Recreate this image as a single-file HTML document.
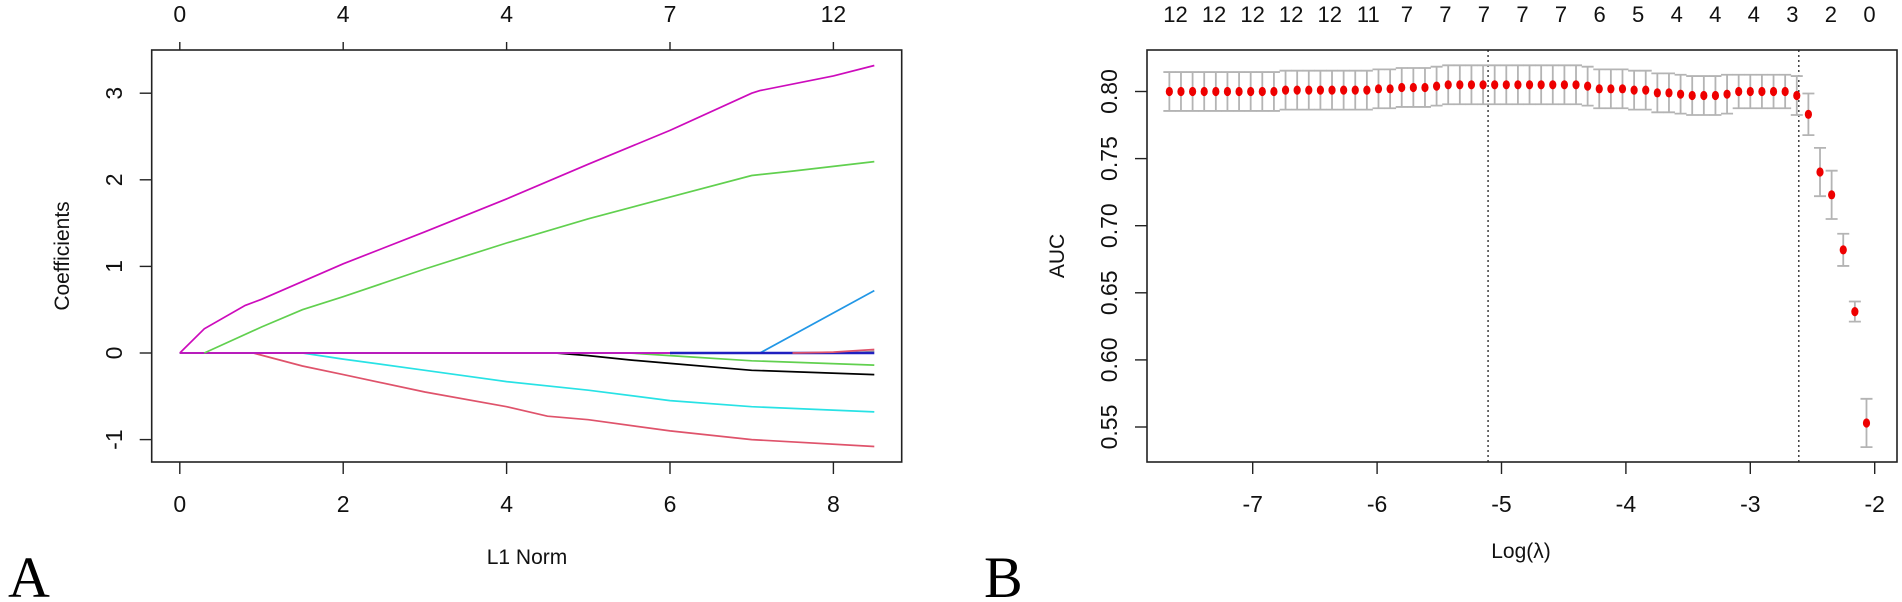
<!DOCTYPE html>
<html><head><meta charset="utf-8"><style>
html,body{margin:0;padding:0;background:#fff;}
svg{display:block;font-family:"Liberation Sans",sans-serif;}
</style></head><body>
<svg id="fig" width="1902" height="602" viewBox="0 0 1902 602">
<text x="8" y="597" font-family="Liberation Serif" font-size="58">A</text>
<text x="984" y="597" font-family="Liberation Serif" font-size="58">B</text>
<g id="pa"></g>
<g id="pb"></g>
</svg>
<script>
// ---- Panel A data ----
const aTopLabels = ["0","4","4","7","12"];
const aXTicks = [0,2,4,6,8];
const aYTicks = [-1,0,1,2,3];
const aColors = ["#DF536B","#28E2E5","#000000","#61D04F","#2297E6","#9E9E9E","#CD0BBC","#2020C0","#DF536B","#61D04F","#CD0BBC"];
const aPathX = [
 [0,0.9,1.5,2,3,4,4.5,5,6,7,8.5],
 [0,1.5,2,3,4,5,6,7,8.5],
 [0,4.6,5,5.5,6,7,8.5],
 [0,5.5,6,7,8.5],
 [0,7.1,8.5],
 [8.0,8.2,8.5],
 [0,6],
 [6,8.5],
 [7.5,8,8.5],
 [0.3,1,1.5,2,3,4,5,6,7,7.5,8.5],
 [0,0.3,0.8,1,2,3,4,5,6,7,7.1,8,8.5]
];
const aPathY = [
 [0,0,-0.15,-0.25,-0.45,-0.62,-0.73,-0.77,-0.9,-1.0,-1.08],
 [0,0,-0.07,-0.2,-0.33,-0.43,-0.55,-0.62,-0.68],
 [0,0,-0.03,-0.08,-0.12,-0.2,-0.25],
 [0,0,-0.03,-0.09,-0.14],
 [0,0,0.72],
 [0,0,0.02],
 [0,0],
 [0,0],
 [0,0.01,0.04],
 [0,0.3,0.5,0.65,0.97,1.27,1.55,1.8,2.05,2.1,2.21],
 [0,0.28,0.55,0.62,1.03,1.4,1.78,2.18,2.57,3.0,3.03,3.2,3.32]
];
// ---- Panel B data ----
const bLogLambda0 = -7.67, bLogLambdaStep = 0.0934;
const bAUC = [0.800,0.800,0.800,0.800,0.800,0.800,0.800,0.800,0.800,0.800,
 0.801,0.801,0.801,0.801,0.801,0.801,0.801,0.801,0.802,0.802,
 0.803,0.803,0.803,0.804,0.805,0.805,0.805,0.805,0.805,0.805,
 0.805,0.805,0.805,0.805,0.805,0.805,0.804,0.802,0.802,0.802,
 0.801,0.801,0.799,0.799,0.798,0.797,0.797,0.797,0.798,0.800,
 0.800,0.800,0.800,0.800,0.797,0.783,0.740,0.723,0.682,0.636,0.553];
const bSE = [0.0145,0.0145,0.0145,0.0145,0.0145,0.0145,0.0145,0.0145,0.0145,0.0145,
 0.0145,0.0145,0.0145,0.0145,0.0145,0.0145,0.0145,0.0145,0.0145,0.0145,
 0.0145,0.0145,0.0145,0.0145,0.0145,0.0145,0.0145,0.0145,0.0145,0.0145,
 0.0145,0.0145,0.0145,0.0145,0.0145,0.0145,0.0145,0.0145,0.0145,0.0145,
 0.0145,0.0145,0.0145,0.0145,0.0145,0.0145,0.0145,0.0145,0.0145,0.0125,
 0.0125,0.0125,0.0125,0.0125,0.0145,0.0155,0.018,0.018,0.012,0.0075,0.018];
const bXTicks = [-7,-6,-5,-4,-3,-2];
const bYTicks = [0.55,0.60,0.65,0.70,0.75,0.80];
const bTopLabels = ["12","12","12","12","12","11","7","7","7","7","7","6","5","4","4","4","3","2","0"];
const bVLines = [-5.108,-2.61];

const NS="http://www.w3.org/2000/svg";
function mk(parent,tag,attrs,text){const e=document.createElementNS(NS,tag);for(const k in attrs)e.setAttribute(k,attrs[k]);if(text!==undefined)e.textContent=text;parent.appendChild(e);return e;}

// Panel A
const pa=document.getElementById('pa');
const aX=v=>179.8+v*81.7, aY=v=>353-v*86.6;
const A={l:151.7,r:901.7,t:50,b:462};
let e;
e=mk(pa,'rect',{x:A.l,y:A.t,width:A.r-A.l,height:A.b-A.t,fill:'none',stroke:'#222','stroke-width':1.6});


aXTicks.forEach((v,i)=>{
 e=mk(pa,'line',{x1:aX(v),x2:aX(v),y1:A.b,y2:A.b+12,stroke:'#222','stroke-width':1.4});
 
 
 e=mk(pa,'text',{x:aX(v),y:512,'font-size':23,'text-anchor':'middle',fill:'#111'},String(v));
 
 
 e=mk(pa,'line',{x1:aX(v),x2:aX(v),y1:A.t,y2:A.t-8,stroke:'#222','stroke-width':1.4});
 
 
 e=mk(pa,'text',{x:aX(v),y:22,'font-size':23,'text-anchor':'middle',fill:'#111'},aTopLabels[i]);
 
 
});
aYTicks.forEach(v=>{
 e=mk(pa,'line',{x1:A.l,x2:A.l-12,y1:aY(v),y2:aY(v),stroke:'#222','stroke-width':1.4});
 
 
 e=mk(pa,'text',{x:0,y:0,'font-size':23,'text-anchor':'middle',fill:'#111',transform:`translate(122,${aY(v)}) rotate(-90)`},String(v));
 
 
});
e=mk(pa,'text',{x:0,y:0,'font-size':21,'text-anchor':'middle',fill:'#111',transform:'translate(69,256) rotate(-90)'},'Coefficients');


e=mk(pa,'text',{x:527,y:564,'font-size':21,'text-anchor':'middle',fill:'#111'},'L1 Norm');


aPathX.forEach((xs,i)=>{
 const pts=xs.map((x,j)=>aX(x).toFixed(1)+','+aY(aPathY[i][j]).toFixed(1)).join(' ');
 e=mk(pa,'polyline',{points:pts,fill:'none',stroke:aColors[i],'stroke-width':i===7?2.6:1.7});
 
 
});

// Panel B
const pb=document.getElementById('pb');
const bX=v=>1252.7+(v+7)*124.4, bY=v=>91.5+(0.80-v)*1342;
const B={l:1147,r:1897,t:50,b:462};
e=mk(pb,'rect',{x:B.l,y:B.t,width:B.r-B.l,height:B.b-B.t,fill:'none',stroke:'#222','stroke-width':1.6});


bXTicks.forEach(v=>{
 e=mk(pb,'line',{x1:bX(v),x2:bX(v),y1:B.b,y2:B.b+12,stroke:'#222','stroke-width':1.4});
 
 
 e=mk(pb,'text',{x:bX(v),y:512,'font-size':23,'text-anchor':'middle',fill:'#111'},String(v));
 
 
});
bYTicks.forEach(v=>{
 e=mk(pb,'line',{x1:B.l,x2:B.l-12,y1:bY(v),y2:bY(v),stroke:'#222','stroke-width':1.4});
 
 
 e=mk(pb,'text',{x:0,y:0,'font-size':23,'text-anchor':'middle',fill:'#111',transform:`translate(1117,${bY(v)}) rotate(-90)`},v.toFixed(2));
 
 
});
e=mk(pb,'text',{x:0,y:0,'font-size':21,'text-anchor':'middle',fill:'#111',transform:'translate(1064,256) rotate(-90)'},'AUC');


e=mk(pb,'text',{x:1521,y:558,'font-size':21,'text-anchor':'middle',fill:'#111'},'Log(λ)');


const topStep=(1519-485)/(bTopLabels.length-1);
bTopLabels.forEach((t,i)=>{
 e=mk(pb,'text',{x:850+(485+i*topStep)/1.49,y:22,'font-size':22,'text-anchor':'middle',fill:'#111'},t);
 
 
});
bVLines.forEach(v=>{
 e=mk(pb,'line',{x1:bX(v),x2:bX(v),y1:B.t,y2:B.b,stroke:'#222','stroke-width':1.3,'stroke-dasharray':'2,3'});
 
 
});
bAUC.forEach((v,i)=>{
 const x=bX(bLogLambda0+i*bLogLambdaStep), hi=bY(v+bSE[i]), lo=bY(v-bSE[i]);
 e=mk(pb,'path',{d:`M${x},${hi}V${lo}M${x-6},${hi}H${x+6}M${x-6},${lo}H${x+6}`,stroke:'#b4b4b4','stroke-width':1.8,fill:'none'});
 
 
});
bAUC.forEach((v,i)=>{
 const x=bX(bLogLambda0+i*bLogLambdaStep);
 e=mk(pb,'ellipse',{cx:x,cy:bY(v),rx:3.6,ry:4.6,fill:'#ee0000'});
 
 
});
</script>
</body></html>
